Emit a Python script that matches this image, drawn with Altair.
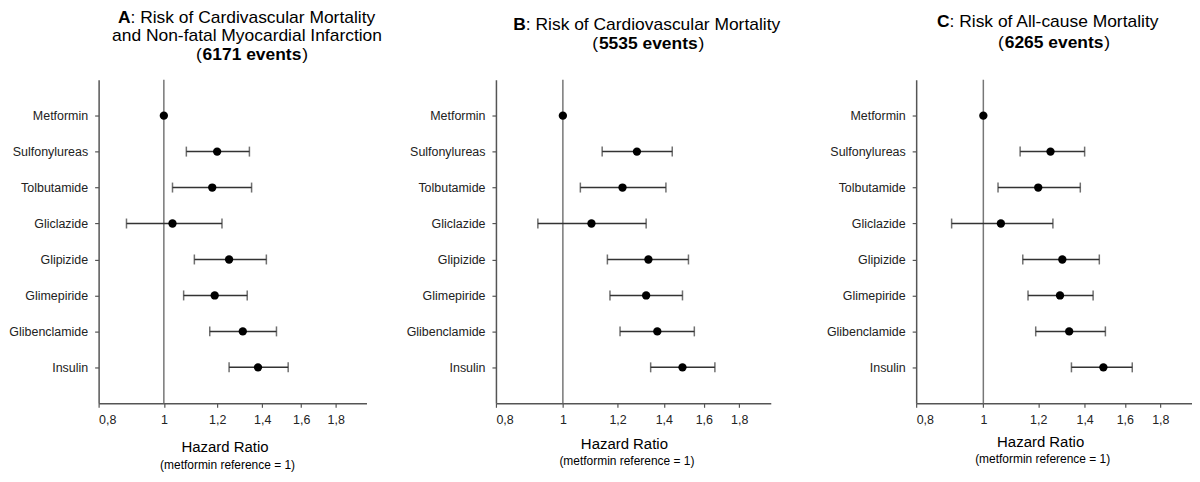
import altair as alt
import pandas as pd

FONT = "Liberation Sans"

drugs = ["Metformin", "Sulfonylureas", "Tolbutamide", "Gliclazide",
         "Glipizide", "Glimepiride", "Glibenclamide", "Insulin"]

# Panel A: CV mortality + non-fatal MI
a_hr = [1.00, 1.20, 1.18, 1.03, 1.25, 1.19, 1.31, 1.38]
a_lo = [None, 1.08, 1.03, 0.88, 1.11, 1.07, 1.17, 1.25]
a_hi = [None, 1.34, 1.35, 1.22, 1.42, 1.33, 1.47, 1.53]

# Panel B: CV mortality
b_hr = [1.00, 1.28, 1.22, 1.10, 1.33, 1.32, 1.37, 1.49]
b_lo = [None, 1.14, 1.06, 0.92, 1.16, 1.17, 1.21, 1.34]
b_hi = [None, 1.44, 1.41, 1.32, 1.52, 1.49, 1.55, 1.66]

# Panel C: all-cause mortality
c_hr = [1.00, 1.25, 1.20, 1.06, 1.30, 1.29, 1.33, 1.49]
c_lo = [None, 1.13, 1.05, 0.90, 1.14, 1.16, 1.19, 1.34]
c_hi = [None, 1.40, 1.38, 1.26, 1.47, 1.44, 1.50, 1.64]

x_ticks = [0.8, 1, 1.2, 1.4, 1.6, 1.8]
x_domain = [0.8, 2.0]
reference = [1.0]

title_a = [("A", True), (": Risk of Cardivascular Mortality", False),
           ("and Non-fatal Myocardial Infarction", False),
           ("(", False), ("6171 events", True), (")", False)]
title_b = [("B", True), (": Risk of Cardiovascular Mortality", False),
           ("(", False), ("5535 events", True), (")", False)]
title_c = [("C", True), (": Risk of All-cause Mortality", False),
           ("(", False), ("6265 events", True), (")", False)]
x_title = "Hazard Ratio"
x_subtitle = "(metformin reference = 1)"

H = 325
HALF_BOLD = 50.5  # half width of the bold "NNNN events" segment plus a gap


def txt(s, x, y, size=17.5, bold=False, align="center"):
    return alt.Chart(pd.DataFrame({"t": [s]})).mark_text(
        align=align, baseline="middle", fontSize=size,
        fontWeight="bold" if bold else "normal", color="black", font=FONT
    ).encode(text="t:N", x=alt.value(x), y=alt.value(y))


def events_line(segs, cx, y):
    return [
        txt(segs[0][0], cx - HALF_BOLD, y, align="right"),
        txt(segs[1][0], cx, y, bold=True),
        txt(segs[2][0], cx + HALF_BOLD, y, align="left"),
    ]


def panel(hr, lo, hi, width, title_layers, xt):
    df = pd.DataFrame({"drug": drugs, "hr": hr, "lo": lo, "hi": hi})
    xscale = alt.Scale(type="log", domain=x_domain, nice=False)
    xaxis = alt.Axis(title=None, values=x_ticks, grid=False,
                     labelExpr="replace(toString(datum.value), '.', ',')",
                     labelFontSize=12.5, labelColor="#222", labelFont=FONT,
                     tickSize=4, labelPadding=6, domainColor="#555",
                     tickColor="#555", domainWidth=1.5, tickWidth=1.2)
    yenc = alt.Y("drug:N", sort=drugs,
                 scale=alt.Scale(type="point", padding=1),
                 axis=alt.Axis(title=None, labelFontSize=12.5, labelColor="#222",
                               labelFont=FONT, tickSize=4, labelPadding=7,
                               domainColor="#555", tickColor="#555",
                               domainWidth=1.5, tickWidth=1.2, grid=False))
    base = alt.Chart(df)
    ci = base.transform_filter("isValid(datum.lo)")

    ref = alt.Chart(pd.DataFrame({"ref": reference})).mark_rule(
        color="#777", strokeWidth=1.5
    ).encode(x=alt.X("ref:Q", scale=xscale, axis=xaxis))
    bars = ci.mark_rule(color="#333", strokeWidth=1.5).encode(
        x=alt.X("lo:Q", scale=xscale, axis=xaxis), x2="hi:Q", y=yenc)
    cap_lo = ci.mark_tick(color="#333", size=10, thickness=1.5).encode(
        x=alt.X("lo:Q", scale=xscale, axis=xaxis), y=yenc)
    cap_hi = ci.mark_tick(color="#333", size=10, thickness=1.5).encode(
        x=alt.X("hi:Q", scale=xscale, axis=xaxis), y=yenc)
    pts = base.mark_circle(color="black", size=70, opacity=1).encode(
        x=alt.X("hr:Q", scale=xscale, axis=xaxis), y=yenc)

    texts = list(title_layers)
    texts.append(txt(x_title, xt[0], H + xt[1], size=15))
    texts.append(txt(x_subtitle, xt[2], H + xt[3], size=12))
    return alt.layer(ref, bars, cap_lo, cap_hi, pts, *texts).properties(
        width=width, height=H)


tA = [
    txt(title_a[0][0], 32, -62, bold=True, align="right"),
    txt(title_a[1][0], 32, -62, align="left"),
    txt(title_a[2][0], 149, -43.5),
] + events_line(title_a[3:], 154, -25)
tB = [
    txt(title_b[0][0], 30, -54.5, bold=True, align="right"),
    txt(title_b[1][0], 30, -54.5, align="left"),
] + events_line(title_b[2:], 153, -36)
tC = [
    txt(title_c[0][0], 33.5, -58, bold=True, align="right"),
    txt(title_c[1][0], 33.5, -58, align="left"),
] + events_line(title_c[2:], 138.5, -37)

pA = panel(a_hr, a_lo, a_hi, 269, tA, (127, 44, 129.5, 62))
pB = panel(b_hr, b_lo, b_hi, 276, tB, (129, 41, 131.5, 58))
pC = panel(c_hr, c_lo, c_hi, 277, tC, (125, 39, 127, 56))

inner = alt.hconcat(pB, pC, spacing=146, bounds="flush")
chart = alt.hconcat(pA, inner, spacing=130, bounds="flush").properties(
    padding=0
).configure(font=FONT).configure_view(stroke=None)

chart.save("out.html", embed_options={"renderer": "svg", "actions": False})
